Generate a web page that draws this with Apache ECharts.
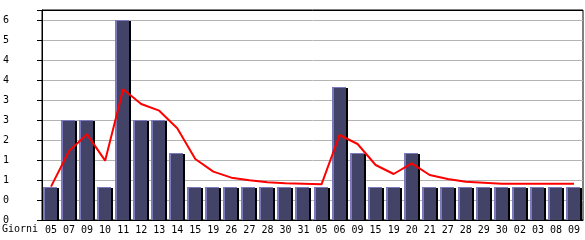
<!DOCTYPE html>
<html><head><meta charset="utf-8">
<script src="https://cdn.jsdelivr.net/npm/echarts@6/dist/echarts.min.js"></script>
<style>html,body{margin:0;padding:0;background:#fff}#c{width:585px;height:240px}</style>
</head><body><div id="c"></div>
<script>
const categories = ['05','07','09','10','11','12','13','14','15','19','26','27','28','30','31','05','06','09','15','19','20','21','27','28','29','30','02','03','08','09'];
const barValues = [1,3,3,1,6,3,3,2,1,1,1,1,1,1,1,1,4,2,1,1,2,1,1,1,1,1,1,1,1,1];
const lineValues = [1.0,2.07,2.57,1.78,3.92,3.48,3.28,2.75,1.83,1.45,1.27,1.19,1.13,1.1,1.09,1.07,2.55,2.28,1.65,1.38,1.7,1.35,1.23,1.15,1.12,1.09,1.09,1.09,1.09,1.09];
const xName = 'Giorni';

const chart = echarts.init(document.getElementById('c'), null, {renderer:'canvas'});
const font = '"DejaVu Sans Mono", monospace';
const splitColors = [];
for (let i = 0; i < 11; i++) splitColors.push('#b4b4b4');
splitColors.push('#000');

chart.setOption({
  animation: false,
  grid: {left: 41, right: 2, top: 10, bottom: 20, show: true, borderColor: '#000', borderWidth: 1},
  graphic: [{type: 'text', left: 2, top: 224, style: {text: xName, font: '10px ' + font, fill: '#000'}}],
  xAxis: {
    type: 'category', data: categories, boundaryGap: true,
    axisLine: {lineStyle: {color: '#000', width: 1}},
    axisTick: {alignWithLabel: true, length: 3, lineStyle: {color: '#000'}},
    axisLabel: {interval: 0, margin: 5, fontFamily: 'DejaVu Sans Mono', fontSize: 10, color: '#000'},
    splitLine: {show: false}
  },
  yAxis: {
    type: 'value', min: 0, max: 6.3, interval: 0.6,
    axisLine: {show: true, lineStyle: {color: '#000', width: 1}},
    axisTick: {show: true, length: 5, lineStyle: {color: '#000'}},
    axisLabel: {align: 'left', margin: 39, fontFamily: 'DejaVu Sans Mono', fontSize: 10, color: '#000',
      formatter: v => v > 6.05 ? '' : String(Math.floor(v + 1e-9))},
    splitLine: {show: true, lineStyle: {color: splitColors, width: 1}}
  },
  series: [
    {
      type: 'custom',
      data: barValues.map((v, i) => [i, v]),
      encode: {x: 0, y: 1},
      renderItem: function (params, api) {
        const idx = api.value(0), v = api.value(1);
        const top = api.coord([idx, v]);
        const base = api.coord([idx, 0]);
        const c = Math.round(top[0]);
        const t = Math.round(top[1]);
        const b = Math.round(base[1]);
        const h = b - t;
        return {
          type: 'group',
          children: [
            {type: 'rect', shape: {x: c + 6, y: t + 1, width: 2, height: h - 1}, style: {fill: '#000'}},
            {type: 'rect', shape: {x: c - 8, y: t, width: 14, height: h}, style: {fill: '#7a7abc'}},
            {type: 'rect', shape: {x: c - 6, y: t + 1, width: 12, height: h - 1}, style: {fill: '#434368'}}
          ]
        };
      },
      z: 2
    },
    {
      type: 'line', data: lineValues, symbol: 'none', smooth: false,
      lineStyle: {color: '#ff0000', width: 2}, z: 3
    }
  ]
});
</script></body></html>
